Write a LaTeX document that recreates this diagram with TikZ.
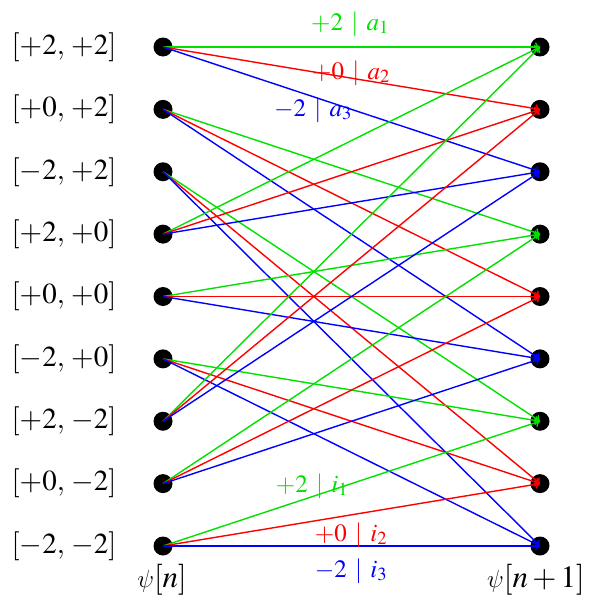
\documentclass[tikz,border=0pt]{standalone}
\usepackage{mathptmx}
\DeclareSymbolFont{cmletters}{OML}{cmm}{m}{it}
\DeclareMathSymbol{\cmpsi}{\mathord}{cmletters}{"20}
\usetikzlibrary{arrows.meta}
\definecolor{cg}{RGB}{0,225,0}
\begin{document}
\begin{tikzpicture}[x=1pt,y=-1pt,
  dot/.style={circle,fill=black,inner sep=0pt,minimum size=19pt},
  lbl/.style={font=\fontsize{29}{33}\selectfont, inner sep=0pt},
  plbl/.style={font=\fontsize{31}{35}\selectfont, inner sep=0pt},
  elbl/.style={font=\fontsize{25}{29}\selectfont, inner sep=0pt},
  edge/.style={line width=1.4pt,-{To[length=5pt,width=9pt]}},
]
\useasboundingbox (0,0) rectangle (590,597);
\foreach \i/\t in {0/{+2,\,+2},1/{+0,\,+2},2/{-2,\,+2},3/{+2,\,+0},4/{+0,\,+0},5/{-2,\,+0},6/{+2,\,-2},7/{+0,\,-2},8/{-2,\,-2}} {
  \node[dot] (L\i) at (163,{47+62.375*\i}) {};
  \node[dot] (R\i) at (540,{47+62.375*\i}) {};
  \node[lbl] (T\i) at (64,{47+62.375*\i}) {$[\t]$};
}
\foreach \i in {0,...,8} {
  \pgfmathtruncatemacro\ga{3*mod(\i,3)}
  \pgfmathtruncatemacro\ra{\ga+1}
  \pgfmathtruncatemacro\ba{\ga+2}
  \draw[edge,cg] (L\i.center) -- (R\ga.center);
  \draw[edge,red] (L\i.center) -- (R\ra.center);
  \draw[edge,blue] (L\i.center) -- (R\ba.center);
}
\node[elbl,text=cg] (ea1) at (350,24) {$+2 \,\mid\, a_1$};
\node[elbl,text=red] (ea2) at (351,73) {$+0 \,\mid\, a_2$};
\node[elbl,text=blue] (ea3) at (313,110) {$-2 \,\mid\, a_3$};
\node[elbl,text=cg] (ei1) at (312,486) {$+2 \,\mid\, i_1$};
\node[elbl,text=red] (ei2) at (351,535) {$+0 \,\mid\, i_2$};
\node[elbl,text=blue] (ei3) at (351,571) {$-2 \,\mid\, i_3$};
\node[plbl] (pn) at (162,580) {$\cmpsi[n]$};
\node[plbl] (pn1) at (536,580) {$\cmpsi[n+1]$};
\end{tikzpicture}
\end{document}
